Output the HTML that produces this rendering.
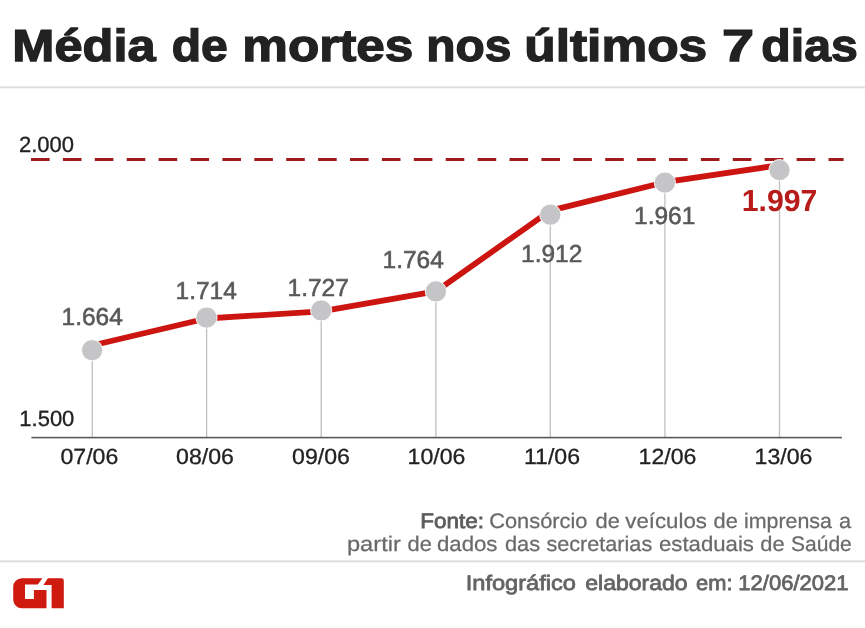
<!DOCTYPE html>
<html>
<head>
<meta charset="utf-8">
<title>Média de mortes nos últimos 7 dias</title>
<style>
  html, body { margin: 0; padding: 0; background: #ffffff; }
  body { width: 865px; height: 628px; overflow: hidden; font-family: "Liberation Sans", sans-serif; }
  svg { display: block; font-family: "Liberation Sans", sans-serif; will-change: transform; transform: translateZ(0); text-rendering: geometricPrecision; }
  .title { font-weight: bold; font-size: 45px; fill: #222222; stroke: #222222; stroke-width: 1.3px; }
  .axis { font-size: 22px; fill: #222222; stroke: #222222; stroke-width: 0.3px; }
  .date { font-size: 22px; fill: #222222; stroke: #222222; stroke-width: 0.3px; }
  .val { font-size: 24.5px; fill: #585858; stroke: #585858; stroke-width: 0.55px; }
  .valb { font-size: 30.5px; font-weight: bold; fill: #b81c1a; }
  .src { font-size: 21px; fill: #6a6a6a; stroke: #6a6a6a; stroke-width: 0.25px; }
  .srcb { fill: #5c5c5c; stroke: #5c5c5c; stroke-width: 0.75px; }
  .credit { font-size: 21px; fill: #646464; stroke: #646464; stroke-width: 0.75px; }
</style>
</head>
<body>
<svg width="865" height="628" viewBox="0 0 865 628">
  <rect x="0" y="0" width="865" height="628" fill="#ffffff"/>

  <!-- title -->
  <g class="title">
    <text transform="translate(12.35,61.3) scale(1.123,1)" x="0" y="0">Média</text>
    <text transform="translate(171.63,61.3) scale(1.0686,1)" x="0" y="0">de</text>
    <text transform="translate(242.32,61.3) scale(1.1395,1)" x="0" y="0">mortes</text>
    <text transform="translate(426.27,61.3) scale(1.0636,1)" x="0" y="0">nos</text>
    <text transform="translate(524.21,61.3) scale(1.1439,1)" x="0" y="0">últimos</text>
    <text transform="translate(722.12,61.3) scale(1.2826,1)" x="0" y="0">7</text>
    <text transform="translate(761.33,61.3) scale(1.0716,1)" x="0" y="0">dias</text>
  </g>
  <rect x="0" y="86.3" width="865" height="2" fill="#dedede"/>

  <!-- y axis labels -->
  <text class="axis" x="19" y="152.3">2.000</text>
  <text class="axis" x="19.3" y="425.6">1.500</text>

  <!-- dashed 2000 line -->
  <line x1="31.0" y1="159.5" x2="843.6" y2="159.5" stroke="#a01c1c" stroke-width="2.8" stroke-dasharray="18.6 13.3"/>

  <!-- stems -->
  <g stroke="#bfbfbf" stroke-width="1.3">
    <line x1="92.3" y1="350" x2="92.3" y2="437"/>
    <line x1="206.6" y1="318" x2="206.6" y2="437"/>
    <line x1="321.2" y1="311" x2="321.2" y2="437"/>
    <line x1="435.9" y1="291" x2="435.9" y2="437"/>
    <line x1="550.3" y1="215" x2="550.3" y2="437"/>
    <line x1="664.9" y1="183" x2="664.9" y2="437"/>
    <line x1="779.5" y1="170" x2="779.5" y2="437"/>
  </g>

  <!-- x axis -->
  <rect x="31.4" y="436.8" width="810.5" height="1.6" fill="#5a5a5a"/>

  <!-- data line -->
  <polyline fill="none" stroke="#cc1510" stroke-width="5.8" stroke-linejoin="round" stroke-linecap="butt"
    points="92.1,345.5 206.5,318.5 321.2,311.4 435.9,291.4 550.3,210.6 664.9,182.2 779.5,165.2"/>

  <!-- points -->
  <g fill="#c5c5c7" stroke="#ffffff" stroke-width="0.9">
    <circle cx="92.1" cy="350.2" r="10.6"/>
    <circle cx="206.5" cy="317.6" r="10.6"/>
    <circle cx="321.2" cy="310.5" r="10.6"/>
    <circle cx="435.9" cy="291.4" r="10.6"/>
    <circle cx="550.3" cy="214.7" r="10.6"/>
    <circle cx="664.9" cy="182.6" r="10.6"/>
    <circle cx="779.5" cy="170.1" r="10.6"/>
  </g>

  <!-- value labels -->
  <text class="val" x="61.5" y="324.8">1.664</text>
  <text class="val" x="175.5" y="299.1">1.714</text>
  <text class="val" x="287.5" y="296.1">1.727</text>
  <text class="val" x="382.5" y="267.9">1.764</text>
  <text class="val" x="521" y="261.6">1.912</text>
  <text class="val" x="634" y="224.3">1.961</text>
  <text class="valb" transform="translate(741.8,210.7) scale(0.99,1)">1.997</text>

  <!-- date labels -->
  <g class="date" text-anchor="middle">
    <text transform="translate(89.4,463.8) scale(1.05,1)">07/06</text>
    <text transform="translate(205,463.8) scale(1.05,1)">08/06</text>
    <text transform="translate(321,463.8) scale(1.05,1)">09/06</text>
    <text transform="translate(436.5,463.8) scale(1.05,1)">10/06</text>
    <text transform="translate(552,463.8) scale(1.05,1)">11/06</text>
    <text transform="translate(667.5,463.8) scale(1.05,1)">12/06</text>
    <text transform="translate(783.5,463.8) scale(1.05,1)">13/06</text>
  </g>

  <!-- source -->
  <g class="src">
    <text class="srcb" transform="translate(420.13,527.7) scale(1.0719,1)">Fonte:</text>
    <text transform="translate(489.26,527.7) scale(1.0376,1)">Consórcio</text>
    <text transform="translate(595.57,527.7) scale(1.04,1)">de</text>
    <text transform="translate(625.3,527.7) scale(1.0592,1)">veículos</text>
    <text transform="translate(713.57,527.7) scale(1.04,1)">de</text>
    <text transform="translate(743.98,527.7) scale(1.0186,1)">imprensa</text>
    <text transform="translate(839.09,527.7) scale(1.04,1)">a</text>
  </g>
  <g class="src">
    <text transform="translate(346.97,551.1) scale(1.1255,1)">partir</text>
    <text transform="translate(407.62,551.1) scale(1.04,1)">de</text>
    <text transform="translate(436.94,551.1) scale(1.0571,1)">dados</text>
    <text transform="translate(504.92,551.1) scale(1.04,1)">das</text>
    <text transform="translate(546.4,551.1) scale(1.0304,1)">secretarias</text>
    <text transform="translate(659.04,551.1) scale(1.0557,1)">estaduais</text>
    <text transform="translate(760.37,551.1) scale(1.04,1)">de</text>
    <text transform="translate(791.05,551.1) scale(1.0,1)">Saúde</text>
  </g>
  <rect x="0" y="560.3" width="865" height="2" fill="#dedede"/>
  <g class="credit">
    <text transform="translate(465.68,590.2) scale(1.1247,1)">Infográfico</text>
    <text transform="translate(585.3,590.2) scale(1.0957,1)">elaborado</text>
    <text transform="translate(696.12,590.2) scale(1.04,1)">em:</text>
    <text transform="translate(738.35,590.2) scale(1.0481,1)">12/06/2021</text>
  </g>

  <!-- G1 logo -->
  <g fill="#cf1a10">
    <path d="M21.9,578.3 L42.4,578.3 L37.8,584.4 L25,584.4 L25,599 L33.9,599 L33.9,590.1 L46.5,590.1 L46.5,608.2 L21.9,608.2 A8.7,8.7 0 0 1 13.2,599.5 L13.2,587 A8.7,8.7 0 0 1 21.9,578.3 Z"/>
    <path d="M47.9,578.3 L61.6,578.3 A2.2,2.2 0 0 1 63.8,580.5 L63.8,608.2 L51.6,608.2 L51.6,585 L43.4,585 Z"/>
  </g>
</svg>
</body>
</html>
